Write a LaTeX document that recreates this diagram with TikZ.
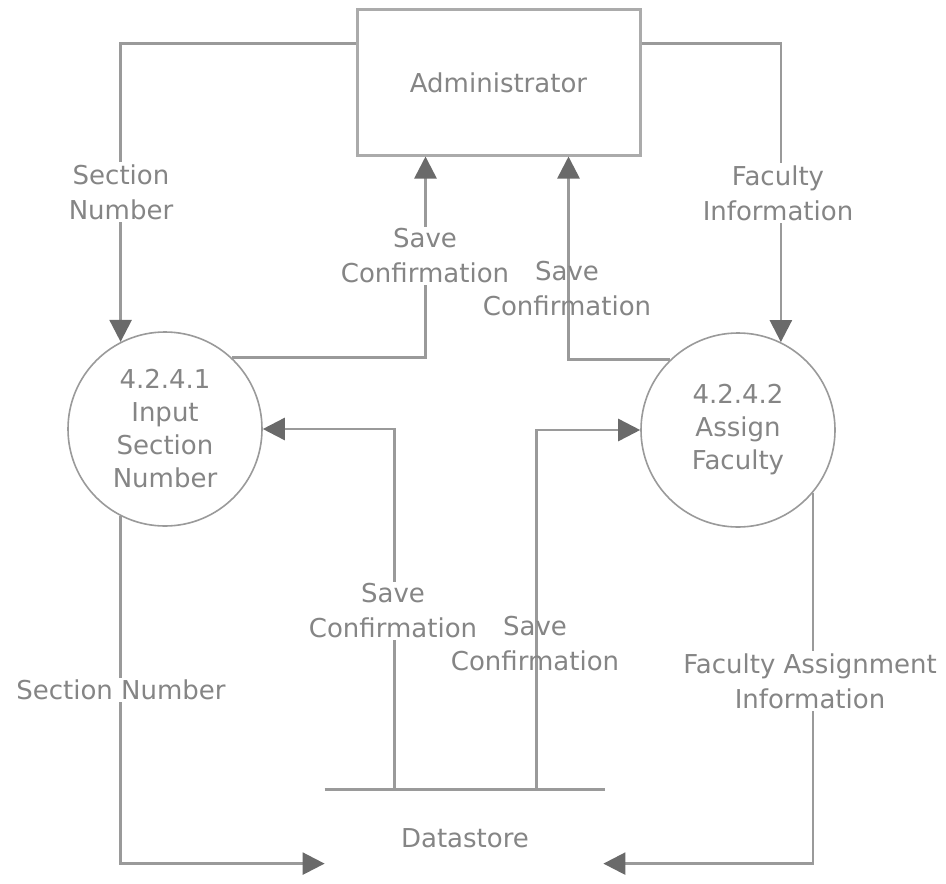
\documentclass[tikz,border=0pt]{standalone}
\usepackage{fontspec}
\setmainfont{DejaVu Sans}
\usetikzlibrary{arrows.meta,calc}
\definecolor{linegray}{HTML}{9A9A9A}
\definecolor{darkgray}{HTML}{6A6A6A}
\definecolor{textgray}{HTML}{858585}
\definecolor{boxgray}{HTML}{ABABAB}
\begin{document}
\begin{tikzpicture}[x=0.5pt,y=-0.5pt,
  txt/.style={text=textgray,font=\fontsize{13}{17.5}\selectfont,align=center},
  lbl/.style={txt,fill=white,inner sep=1pt},
  lblclear/.style={txt,inner sep=1pt},
  entity/.style={draw=boxgray,line width=1.5pt,minimum width=141.5pt,minimum height=72.5pt,txt},
  proc/.style={circle,draw=linegray,line width=0.8pt,minimum size=97pt,inner sep=0pt,text=textgray,font=\fontsize{13}{16.5}\selectfont,align=center},
  store/.style={minimum width=140pt,minimum height=48pt,inner sep=0pt,txt},
  flow/.style={draw=linegray,line width=1.3pt,-{Triangle[length=11pt,width=11pt,color=darkgray]}},
]
\useasboundingbox (0,0) rectangle (946,883);
\fill[white] (0,0) rectangle (946,883);

\node[entity] (admin) at (498.5,82.5) {Administrator};
\node[proc] (c1) at (165,429) {4.2.4.1\\Input\\Section\\Number};
\node[proc] (c2) at (738,430) {4.2.4.2\\Assign\\Faculty};
\node[store] (ds) at (465,838) {Datastore};
\draw[draw=linegray,line width=1.3pt] (ds.north west) -- (ds.north east);

\coordinate (dsL) at ($(ds.north west)+(0,74)$);
\coordinate (dsR) at ($(ds.north east)+(-2,74)$);

% flows
\draw[flow] ($(admin.north west)+(0,35)$) -| (c1.117);
\draw[flow] (c1.47) -| ($(admin.south west)+(70,0)$);
\draw[flow] (c2.134) -| ($(admin.south west)+(213,0)$);
\draw[flow] ($(admin.north east)+(0,35)$) -| (c2.64);
\draw[flow] ($(ds.north west)+(70,0)$) |- (c1.east);
\draw[flow] ($(ds.north west)+(212,0)$) |- (c2.west);
\draw[flow] (c1.243) |- (dsL);
\draw[flow] (c2.320) |- (dsR);

% labels
\node[lbl] (l1) at (121,192) {Section\\Number};
\node[lbl] (l2) at (425,256) {Save\\Confirmation};
\node[lblclear] (l3) at (567,289) {Save\\Confirmation};
\node[lbl] (l4) at (778,193) {Faculty\\Information};
\node[lbl] (l5) at (393,611) {Save\\Confirmation};
\node[lblclear] (l6) at (535,644) {Save\\Confirmation};
\node[lbl] (l7) at (121,690) {Section Number};
\node[lbl] (l8) at (810,681) {Faculty Assignment\\Information};
\end{tikzpicture}
\end{document}
